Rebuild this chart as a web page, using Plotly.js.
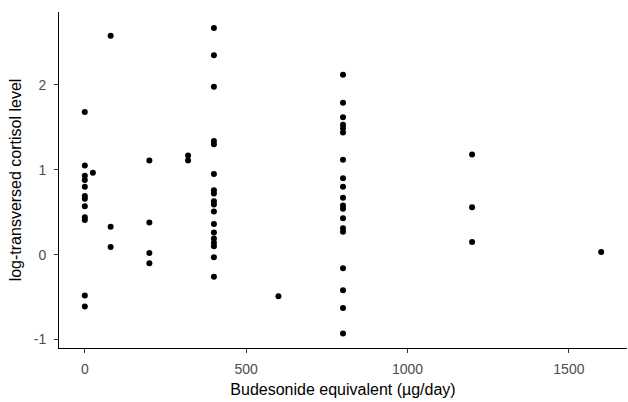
<!DOCTYPE html>
<html>
<head>
<meta charset="utf-8">
<script src="https://cdn.plot.ly/plotly-3.0.1.min.js"></script>
<style>html,body{margin:0;padding:0;background:#fff;}#chart{width:628px;height:402px;}</style>
</head>
<body>
<div id="chart"></div>
<script>
// Dose (budesonide equivalent, µg/day)
const dose = [
  0,0,0,0,0,0,0,0,0,0,0,0,
  25,
  80,80,80,
  200,200,200,200,
  320,320,
  400,400,400,400,400,400,400,400,400,400,400,400,400,400,400,400,400,400,
  600,
  800,800,800,800,800,800,800,800,800,800,800,800,800,800,800,800,800,800,800,
  1200,1200,1200,
  1600
];
// Log-transformed cortisol level
const cortisol = [
  1.68,1.05,0.93,0.88,0.80,0.69,0.66,0.57,0.44,0.41,-0.48,-0.61,
  0.965,
  2.58,0.33,0.09,
  1.11,0.38,0.02,-0.10,
  1.17,1.11,
  2.67,2.35,1.98,1.34,1.30,0.95,0.76,0.72,0.63,0.59,0.51,0.36,0.26,0.19,0.14,0.10,-0.03,-0.26,
  -0.49,
  2.12,1.79,1.62,1.53,1.49,1.44,1.12,0.90,0.80,0.67,0.58,0.54,0.43,0.31,0.27,-0.16,-0.42,-0.63,-0.93,
  1.18,0.56,0.15,
  0.03
];
const xTicks = [0, 500, 1000, 1500];
const yTicks = [-1, 0, 1, 2];

const trace = {
  x: dose, y: cortisol, type: 'scatter', mode: 'markers',
  marker: {color: '#000000', size: 6}, hoverinfo: 'x+y'
};

const FONT = 'Liberation Sans, Arial, sans-serif';
const axisCommon = {
  showgrid: false, zeroline: false, showline: true, linecolor: '#000000', linewidth: 1,
  ticks: 'outside', ticklen: 4, tickcolor: '#333333', tickwidth: 1,
  tickfont: {family: FONT, size: 14, color: '#4d4d4d'},
  mirror: false
};

const layout = {
  width: 628, height: 402,
  margin: {l: 59, r: 1, t: 12, b: 54},
  paper_bgcolor: '#ffffff', plot_bgcolor: '#ffffff',
  showlegend: false,
  xaxis: Object.assign({}, axisCommon, {
    range: [-80, 1680], tickmode: 'array', tickvals: xTicks, ticktext: xTicks.map(String),
    ticklabelstandoff: 4,
    title: {text: 'Budesonide equivalent (µg/day)', standoff: 8,
            font: {family: FONT, size: 16, color: '#000000'}}
  }),
  yaxis: Object.assign({}, axisCommon, {
    range: [-1.1, 2.86], tickmode: 'array', tickvals: yTicks, ticktext: yTicks.map(String),
    ticklabelstandoff: 5,
    title: {text: 'log-transversed cortisol level', standoff: 8,
            font: {family: FONT, size: 16, color: '#000000'}}
  })
};

Plotly.newPlot('chart', [trace], layout, {displayModeBar: false, staticPlot: true});
</script>
</body>
</html>
